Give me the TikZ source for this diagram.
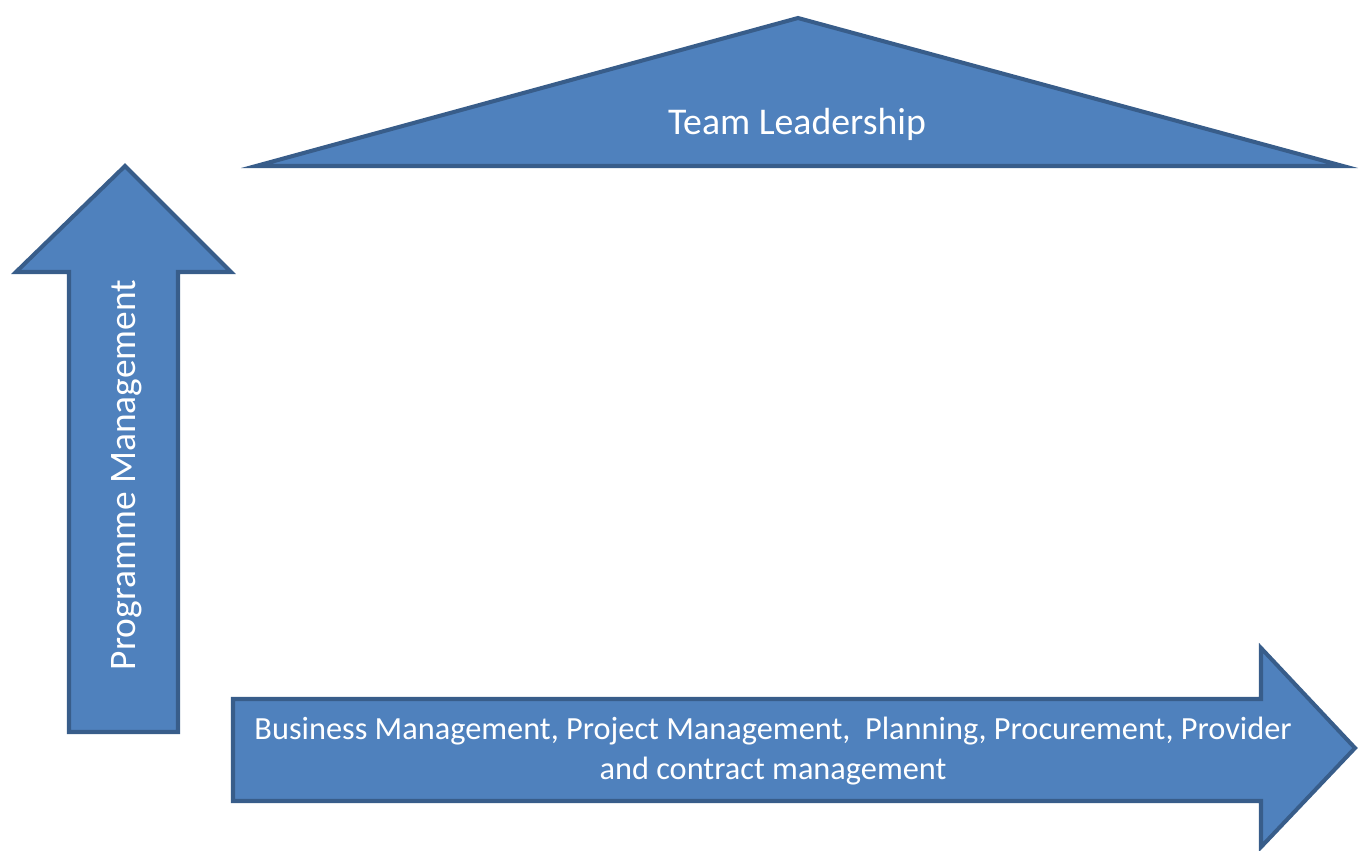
\documentclass[tikz,border=0pt]{standalone}
\usepackage{fontspec}
\setmainfont{Carlito}
\definecolor{shapefill}{HTML}{4F81BD}
\definecolor{shapeline}{HTML}{385D8A}
\tikzset{
  blockshape/.style={fill=shapefill, draw=shapeline, line width=2.3pt, line join=miter},
  blocklabel/.style={text=white, inner sep=0pt, align=center}
}
\begin{document}
\begin{tikzpicture}[x=0.02cm, y=-0.02cm]
    \useasboundingbox (0,0) rectangle (1359,850);
    % Roof triangle
    \coordinate (ra) at (256,166); \coordinate (rb) at (1343,166); \coordinate (rc) at (798,18);
    \draw[blockshape] (ra)--(rc)--(rb)--cycle;
    \node[blocklabel, font=\fontsize{21.5}{25}\selectfont] (team) at (797,124) {Team Leadership};
    % Upward arrow
    \coordinate (u1) at (69,732); \coordinate (u2) at (69,272); \coordinate (u3) at (16,272);
    \coordinate (u4) at (125,166); \coordinate (u5) at (231,272); \coordinate (u6) at (178,272);
    \coordinate (u7) at (178,732);
    \draw[blockshape] (u1)--(u2)--(u3)--(u4)--(u5)--(u6)--(u7)--cycle;
    \node[blocklabel, rotate=90, font=\fontsize{21.3}{25}\selectfont] (prog) at (127,475) {Programme Management};
    % Rightward arrow
    \coordinate (h1) at (233,699); \coordinate (h2) at (1261,699); \coordinate (h3) at (1261,648);
    \coordinate (h4) at (1355,748); \coordinate (h5) at (1261,847); \coordinate (h6) at (1261,801);
    \coordinate (h7) at (233,801);
    \draw[blockshape] (h1)--(h2)--(h3)--(h4)--(h5)--(h6)--(h7)--cycle;
    \node[blocklabel, font=\fontsize{18.4}{22.7}\selectfont] (work) at (773,751)
      {Business Management, Project Management,\ \ Planning, Procurement, Provider\\and contract management};
\end{tikzpicture}
\end{document}
